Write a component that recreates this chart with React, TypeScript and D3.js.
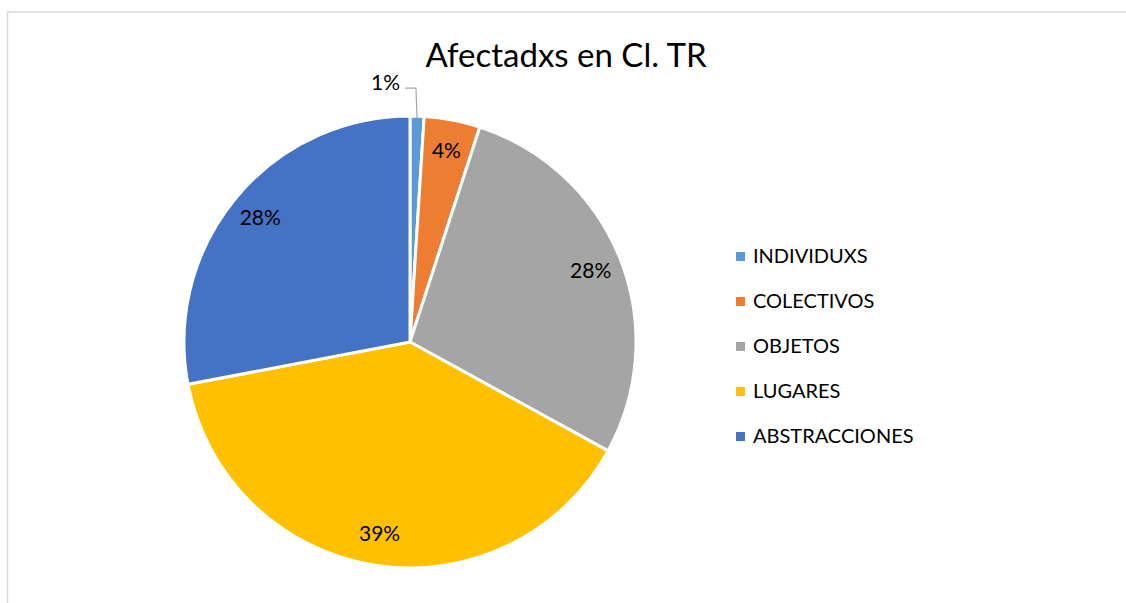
import React, { useEffect, useRef } from 'react';
import * as d3 from 'd3';

const categories = ['INDIVIDUXS', 'COLECTIVOS', 'OBJETOS', 'LUGARES', 'ABSTRACCIONES'];
const values = [1, 4, 28, 39, 28];
const colors = ['#5B9BD5', '#ED7D31', '#A5A5A5', '#FFC000', '#4472C4'];
const title = 'Afectadxs en Cl. TR';

export default function App() {
  const svgRef = useRef<SVGSVGElement>(null);

  useEffect(() => {
    const width = 1126,
      height = 603;
    const svg = d3.select(svgRef.current);
    svg.selectAll('*').remove();

    const font = 'Lato, "Open Sans", sans-serif';

    // chart frame (only top and left edges are visible)
    svg
      .append('rect')
      .attr('x', 7.5)
      .attr('y', 12)
      .attr('width', width + 20)
      .attr('height', height + 20)
      .attr('fill', '#fff')
      .attr('stroke', '#d9d9d9')
      .attr('stroke-width', 1.5);

    svg
      .append('text')
      .attr('x', 566)
      .attr('y', 67)
      .attr('text-anchor', 'middle')
      .attr('font-family', font)
      .attr('font-size', 33)
      .attr('fill', '#000')
      .text(title);

    const cx = 410,
      cy = 342,
      r = 226;

    const data = categories.map((c, i) => ({ name: c, value: values[i], color: colors[i] }));
    const total = d3.sum(values);

    const pie = d3
      .pie<any>()
      .value(d => d.value)
      .sort(null);
    const arcs = pie(data);

    const arc = d3.arc<any>().innerRadius(0).outerRadius(r);
    const labelArc = d3.arc<any>().innerRadius(r * 0.86).outerRadius(r * 0.86);

    const g = svg.append('g').attr('transform', `translate(${cx},${cy})`);

    g.selectAll('path.slice')
      .data(arcs)
      .enter()
      .append('path')
      .attr('class', 'slice')
      .attr('d', arc)
      .attr('fill', d => d.data.color)
      .attr('stroke', '#fff')
      .attr('stroke-width', 3)
      .attr('stroke-linejoin', 'round');

    const fmt = (v: number) => Math.round((v / total) * 100) + '%';

    arcs.forEach(d => {
      const pct = d.data.value / total;
      if (pct < 0.02) {
        // small slice: label outside with leader line
        const mid = (d.startAngle + d.endAngle) / 2;
        const p0 = [Math.sin(mid) * (r - 2), -Math.cos(mid) * (r - 2)];
        const p1 = [Math.sin(mid) * (r + 28) - 2, -Math.cos(mid) * (r + 28)];
        const p2 = [p1[0] - 11, p1[1]];
        g.append('polyline')
          .attr('points', [p0, p1, p2].map(p => p.join(',')).join(' '))
          .attr('fill', 'none')
          .attr('stroke', '#a6a6a6')
          .attr('stroke-width', 1.2);
        g.append('text')
          .attr('x', p2[0] - 5)
          .attr('y', p2[1])
          .attr('dy', '0.1em')
          .attr('text-anchor', 'end')
          .attr('font-family', font)
          .attr('font-size', 21)
          .attr('fill', '#000')
          .text(fmt(d.data.value));
      } else {
        const [lx, ly] = labelArc.centroid(d);
        g.append('text')
          .attr('x', lx)
          .attr('y', ly)
          .attr('dy', '0.35em')
          .attr('text-anchor', 'middle')
          .attr('font-family', font)
          .attr('font-size', 21)
          .attr('fill', '#000')
          .text(fmt(d.data.value));
      }
    });

    // legend
    const legendY = d3
      .scalePoint<string>()
      .domain(categories)
      .range([256, 436]);

    const legend = svg
      .append('g')
      .selectAll('g')
      .data(data)
      .enter()
      .append('g')
      .attr('transform', d => `translate(736,${legendY(d.name)})`);

    legend
      .append('rect')
      .attr('x', 0)
      .attr('y', -4)
      .attr('width', 9)
      .attr('height', 9)
      .attr('fill', d => d.color);

    legend
      .append('text')
      .attr('x', 17)
      .attr('y', 0)
      .attr('dy', '0.36em')
      .attr('font-family', font)
      .attr('font-size', 20)
      .attr('fill', '#000')
      .text(d => d.name);
  }, []);

  return (
    <svg
      ref={svgRef}
      width={1126}
      height={603}
      style={{ position: 'absolute', left: 0, top: 0, background: '#fff' }}
    />
  );
}
